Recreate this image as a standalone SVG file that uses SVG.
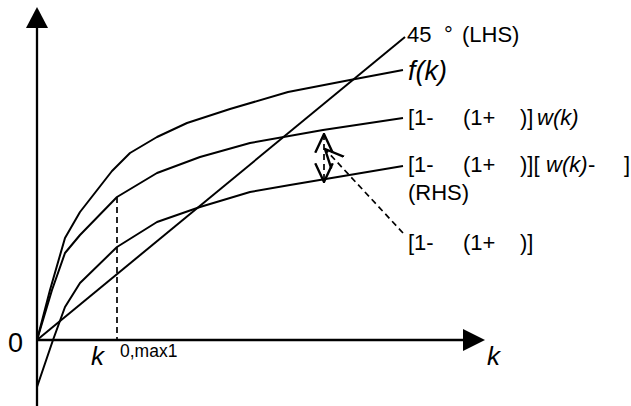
<svg xmlns="http://www.w3.org/2000/svg" width="631" height="406" viewBox="0 0 631 406">
  <style>
    .axis { stroke: #000; stroke-width: 2.3; fill: none; }
    .curve { stroke: #000; stroke-width: 2; fill: none; stroke-linejoin: round; }
    .dash { stroke: #000; stroke-width: 1.7; fill: none; stroke-dasharray: 6 4; }
    .lbl { font-family: "Liberation Sans", Arial, sans-serif; font-size: 22px; fill: #000; }
    .it { font-style: italic; }
  </style>
  <defs>
    <marker id="vhead" markerUnits="userSpaceOnUse" markerWidth="20" markerHeight="20" viewBox="0 0 16 16" refX="15" refY="8" orient="auto-start-reverse">
      <path d="M0,1 L15,8 L0,15" fill="none" stroke="#000" stroke-width="1.9" stroke-dasharray="none"/>
    </marker>
  </defs>

  <g id="axes">
    <line class="axis" x1="37" y1="406" x2="37" y2="27"/>
    <polygon points="37,7 26,28 48,28" fill="#000"/>
    <line class="axis" x1="37" y1="340" x2="464" y2="340"/>
    <polygon points="485,340 463,329 463,351" fill="#000"/>
  </g>

  <g id="connectors">
    <polyline id="fk" class="curve" points="37,340 50,290 65,238 80,212 112,171 130,153 157,137 187,123 230,109 288,92 350,80 403,70"/>
    <polyline id="wk" class="curve" points="37,340 52,290 65,253 80,235 117,197 157,173 200,157 250,143 323,130 403,118"/>
    <polyline id="rhs" class="curve" points="37,387 53,340 65,307 80,283 117,247 157,222 200,207 250,192 290,185 403,166"/>
    <line id="lhs" class="curve" x1="37" y1="340" x2="405" y2="37"/>
    <line id="kmax" class="dash" x1="117" y1="197" x2="117" y2="340"/>
    <line id="gap" class="dash" x1="324" y1="134" x2="324" y2="182" marker-start="url(#vhead)" marker-end="url(#vhead)"/>
    <line id="pointer" class="dash" x1="403" y1="233" x2="325" y2="149" marker-end="url(#vhead)"/>
  </g>

  <g id="label-lhs"><text class="lbl" x="407" y="42">45<tspan x="444">°</tspan><tspan x="462">(LHS)</tspan></text></g>
  <g id="label-fk"><text class="lbl it" x="408" y="80" style="font-size:27px">f(k)</text></g>
  <g id="label-wk"><text class="lbl" x="408" y="125">[1-<tspan x="463">(1+</tspan><tspan x="520">)]</tspan><tspan x="537" class="it">w(k)</tspan></text></g>
  <g id="label-rhs">
    <text class="lbl" x="408" y="172">[1-<tspan x="463">(1+</tspan><tspan x="520">)][</tspan><tspan x="546" class="it">w(k)</tspan><tspan x="588">-</tspan><tspan x="624">]</tspan></text>
    <text class="lbl" x="408" y="200">(RHS)</text>
  </g>
  <g id="label-gap"><text class="lbl" x="408" y="250">[1-<tspan x="463">(1+</tspan><tspan x="520">)]</tspan></text></g>
  <g id="label-origin"><text class="lbl" x="8" y="352" style="font-size:27px">0</text></g>
  <g id="label-k0"><text class="lbl it" x="91" y="365" style="font-size:26px">k</text><text class="lbl" x="120" y="357" style="font-size:17.5px">0,max1</text></g>
  <g id="label-kaxis"><text class="lbl it" x="487" y="365" style="font-size:26px">k</text></g>
</svg>
